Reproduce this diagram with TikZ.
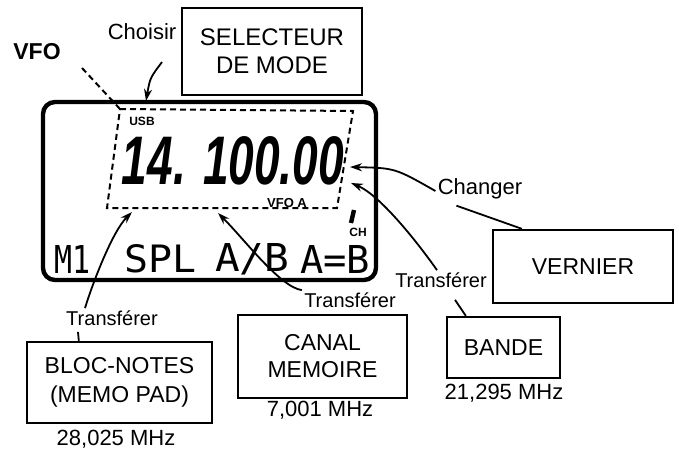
\documentclass[tikz,border=0pt]{standalone}
\usepackage{fontspec}
\usepackage{graphicx}
\setmainfont{Liberation Sans}
\newfontfamily\lcdfont{DejaVu Sans Mono}
\usetikzlibrary{arrows.meta, positioning}

\begin{document}
\begin{tikzpicture}[x=0.5pt, y=-0.5pt,
    box/.style={draw, line width=1.2pt, align=center, inner sep=0pt},
    lbl/.style={inner sep=1pt, font=\fontsize{10}{12}\selectfont},
    freq/.style={inner sep=1pt, font=\fontsize{11}{13}\selectfont},
    mini/.style={inner sep=0pt, font=\bfseries\fontsize{6}{6}\selectfont},
    lcdrow/.style={inner sep=0pt, font=\lcdfont\fontsize{20}{20}\selectfont},
    arr/.style={-{Stealth[length=6pt, width=4pt]}, line width=0.9pt},
    lead/.style={line width=0.9pt},
]
\useasboundingbox (0,0) rectangle (679,455);

% display window
\draw[line width=2.2pt, rounded corners=6pt] (43,102) rectangle (376,280);

\coordinate (fr-nw) at (120,109);
\coordinate (fr-ne) at (353,111);
\coordinate (fr-se) at (337,208);
\coordinate (fr-sw) at (107,208);
\draw[line width=1pt, dash pattern=on 3pt off 2pt]
     (fr-nw) -- (fr-ne) -- (fr-se) -- (fr-sw) -- cycle;

% display contents
\node[mini] (usb) at (142,121) {USB};
\node[inner sep=0pt] (digits) at (233,161)
     {\resizebox{111pt}{24pt}{\bfseries\itshape 14. 100.00}};
\node[mini, font=\bfseries\fontsize{6.5}{6.5}\selectfont] (vfoa) at (287,203) {VFO A};
\node[mini] (ch) at (358,232) {CH};
\draw[line width=2.2pt] (354,210) -- (351,223);

\node[lcdrow] (m1)  at (72,259)  {\resizebox{18pt}{14pt}{M1}};
\node[lcdrow] (spl) at (161,259) {\resizebox{36pt}{14pt}{SPL}};
\node[lcdrow] (ab)  at (252,259) {\resizebox{37pt}{14pt}{A/B}};
\node[lcdrow] (aeb) at (335,259) {\resizebox{35pt}{14pt}{A=B}};

% boxes
\node[box, minimum width=90pt, minimum height=43.5pt,
      font=\fontsize{12}{14}\selectfont] (sel) at (272,51.5) {SELECTEUR\\DE MODE};
\node[box, minimum width=90pt, minimum height=36.5pt,
      font=\fontsize{11.5}{13}\selectfont] (vern) at (583,266.5) {VERNIER};
\node[box, minimum width=56.5pt, minimum height=30.5pt,
      font=\fontsize{11.5}{13}\selectfont] (band) at (503.5,347.5) {BANDE};
\node[box, minimum width=84.5pt, minimum height=41.5pt,
      font=\fontsize{11.5}{13.5}\selectfont] (canal) at (322.5,356.5) {CANAL\\MEMOIRE};
\node[box, minimum width=92.5pt, minimum height=40.5pt,
      font=\fontsize{11.5}{14.5}\selectfont] (bloc) at (119.5,382.5) {BLOC-NOTES\\(MEMO PAD)};

% frequencies
\node[freq] (f-bloc)  at (116,439) {28,025 MHz};
\node[freq] (f-canal) at (320,410) {7,001 MHz};
\node[freq] (f-band)  at (504,393) {21,295 MHz};

% labels
\node[lbl, font=\bfseries\fontsize{11.5}{12}\selectfont] (vfo) at (37,52) {VFO};
\node[lbl, font=\fontsize{11}{12}\selectfont] (chs) at (142,32) {Choisir};
\node[lbl, font=\fontsize{11}{12}\selectfont] (chg) at (480,189) {Changer};
\node[lbl] (tr-b) at (441,280) {Transférer};
\node[lbl] (tr-c) at (350,300) {Transférer};
\node[lbl] (tr-l) at (112,318) {Transférer};

% VFO pointer
\coordinate (vfo-tail) at (82,68);
\draw[line width=1pt, dash pattern=on 3pt off 2pt] (vfo-tail) -- (fr-nw);

% Choisir
\coordinate (chs-tail) at (162,62);
\coordinate (chs-tip) at (146,101);
\draw[arr] (chs-tail) .. controls (150,78) .. (chs-tip);

% Changer
\coordinate (chg-tip) at (350,167);
\draw[arr] ([yshift=-1pt]chg.west) .. controls (395,168) .. (chg-tip);
\draw[lead] ([xshift=10.5pt, yshift=-2pt]chg.south west) -- ([xshift=15pt]vern.north west);

% Transferer -> bande
\coordinate (trb-tip) at (351,183);
\draw[arr] ([xshift=-2pt]tr-b.north) .. controls (418,243) and (380,195) .. (trb-tip);
\draw[lead] ([xshift=7pt, yshift=-5pt]tr-b.south) -- ([xshift=10pt]band.north west);

% Transferer -> canal
\coordinate (trc-tip) at (218,213);
\draw[arr] (tr-c.north west) .. controls (280,287) and (245,240) .. (trc-tip);

% Transferer -> bloc-notes
\coordinate (trl-tip) at (132,212);
\draw[arr] ([xshift=-13.5pt]tr-l.north) .. controls (92,285) and (112,232) .. (trl-tip);
\draw[lead] ([xshift=-17pt, yshift=-2pt]tr-l.south) -- ([xshift=26.5pt]bloc.north west);

\end{tikzpicture}
\end{document}
